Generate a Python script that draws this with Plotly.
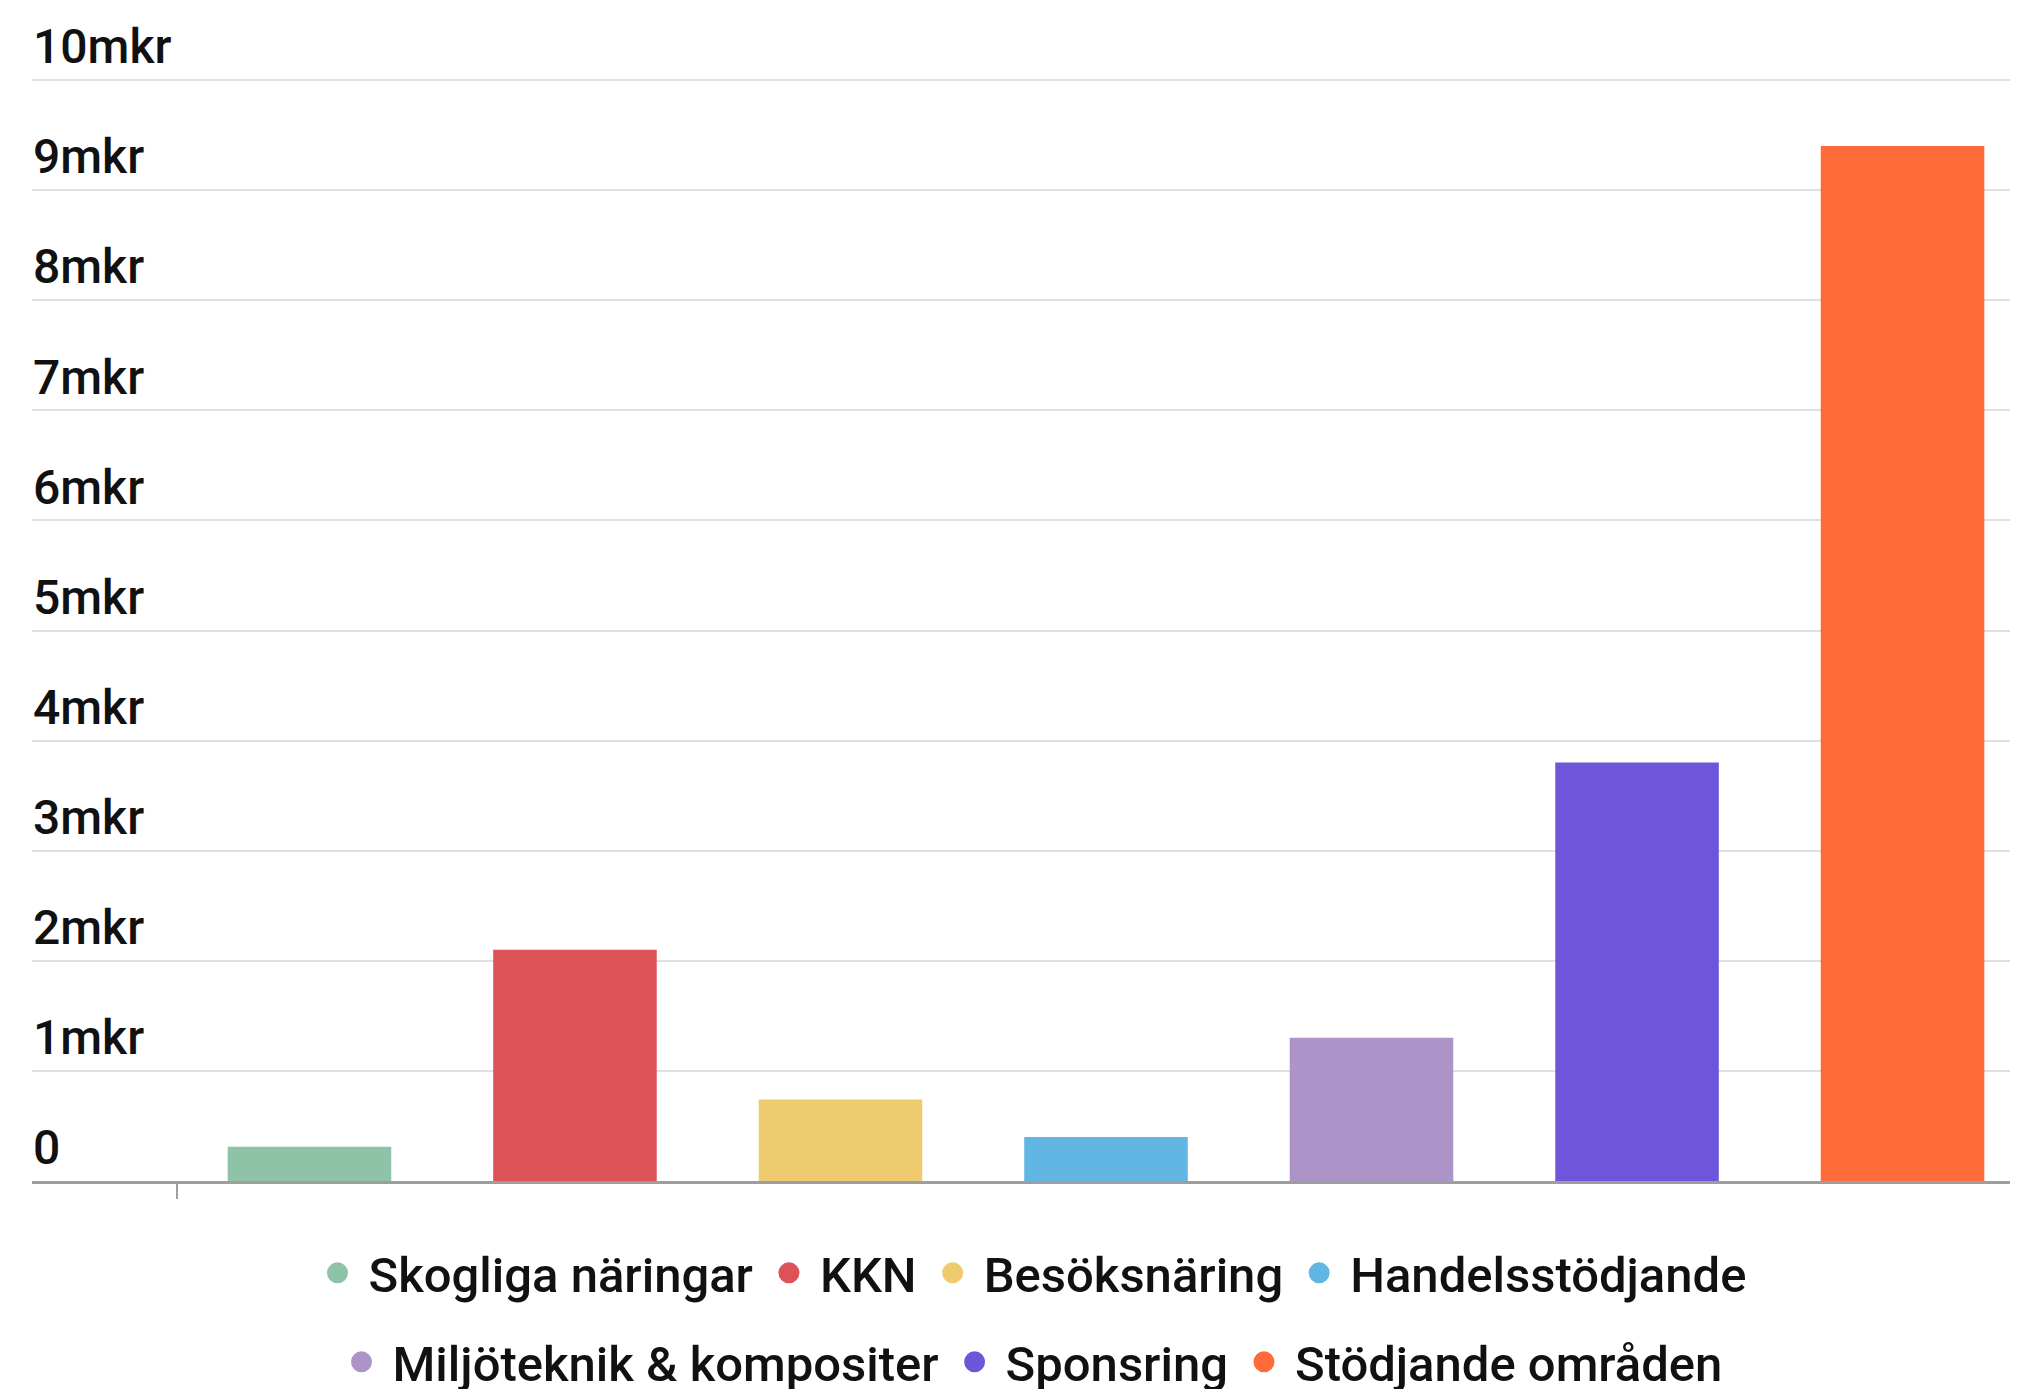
import plotly.graph_objects as go

categories = ["Skogliga näringar", "KKN", "Besöksnäring", "Handelsstödjande",
              "Miljöteknik & kompositer", "Sponsring", "Stödjande områden"]
values = [0.31, 2.10, 0.74, 0.40, 1.30, 3.80, 9.40]
colors = ["#8FC3A7", "#DC5257", "#EDCB6E", "#62B6E4", "#AC93C8", "#6E55D9", "#FE6B39"]
legend_row = ["legend", "legend", "legend", "legend", "legend2", "legend2", "legend2"]
y_tickvals = [0, 1, 2, 3, 4, 5, 6, 7, 8, 9, 10]
y_ticktext = ["0", "1mkr", "2mkr", "3mkr", "4mkr", "5mkr", "6mkr", "7mkr", "8mkr", "9mkr", "10mkr"]

FONT = "Roboto"

fig = go.Figure()
for i, (cat, val, col) in enumerate(zip(categories, values, colors)):
    fig.add_trace(go.Bar(
        x=[i], y=[val], width=0.616, marker=dict(color=col, line=dict(width=0)),
        name=cat, showlegend=False, hoverinfo="name+y",
    ))
for cat, col, lg in zip(categories, colors, legend_row):
    fig.add_trace(go.Scatter(
        x=[None], y=[None], mode="markers", name=cat, legend=lg,
        marker=dict(symbol="circle", size=16, color=col, line=dict(color=col, width=5)),
    ))

legend_common = dict(
    orientation="h", xanchor="center", x=0.5, yanchor="middle",
    font=dict(family=FONT, size=49, color="#111111", weight=500),
    itemwidth=52, bgcolor="rgba(0,0,0,0)", tracegroupgap=0,
    itemclick=False, itemdoubleclick=False,
)

fig.update_layout(
    width=2018, height=1389,
    margin=dict(l=24, r=0, t=0, b=216, autoexpand=False),
    paper_bgcolor="white", plot_bgcolor="white",
    barmode="overlay",
    showlegend=True,
    legend=dict(**legend_common, y=-0.0784),
    legend2=dict(**legend_common, y=-0.1543),
    xaxis=dict(
        range=[-1.045, 6.465], showgrid=False, zeroline=False,
        showline=True, linecolor="#9E9E9E", linewidth=3,
        tickmode="array", tickvals=[-0.5], ticktext=[""],
        ticks="outside", ticklen=15, tickwidth=2, tickcolor="#9E9E9E",
    ),
    yaxis=dict(
        range=[0, 10.654], showgrid=True, gridcolor="#E0E0E0", gridwidth=2,
        zeroline=False, showline=False,
        tickmode="array", tickvals=y_tickvals, ticktext=y_ticktext,
        ticklabelposition="inside top", ticklabelstandoff=-2,
        tickfont=dict(family=FONT, size=48, color="#111111", weight=500),
    ),
)

fig.write_html("out.html")
